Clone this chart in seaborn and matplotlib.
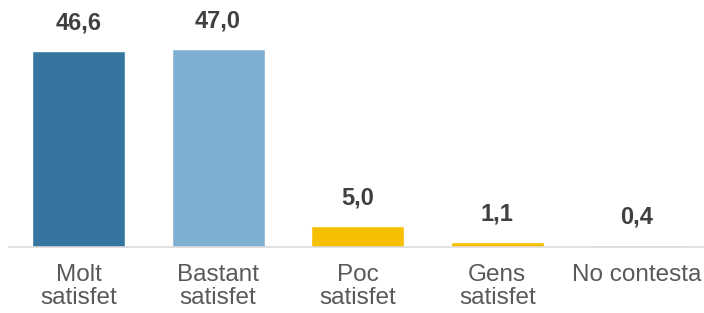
import matplotlib
matplotlib.use("Agg")
import matplotlib.pyplot as plt
import seaborn as sns
import pandas as pd

# Data
categories = ["Molt\nsatisfet", "Bastant\nsatisfet", "Poc\nsatisfet", "Gens\nsatisfet", "No contesta"]
values = [46.6, 47.0, 5.0, 1.1, 0.4]
colors = ["#35759f", "#7eafd3", "#f6bf00", "#f6bf00", "#d9d9d9"]

df = pd.DataFrame({"cat": categories, "val": values})

sns.set_style("white")
plt.rcParams["font.family"] = ["Liberation Sans", "DejaVu Sans"]

fig = plt.figure(figsize=(7.04, 3.13), dpi=100)
ax = fig.add_axes([8.7 / 704, 66.3 / 313, 698 / 704, 246.7 / 313])

sns.barplot(data=df, x="cat", y="val", hue="cat", palette=colors,
            legend=False, width=0.666, saturation=1, ax=ax)

ax.set_xlim(-0.5, 4.5)
ax.set_ylim(0, 58.65)

# value labels with decimal comma
for container in ax.containers:
    ax.bar_label(container, labels=[f"{v:.1f}".replace(".", ",") for v in container.datavalues],
                 padding=12, fontsize=17, fontweight="bold", color="#404040")

for s in ["top", "left", "right"]:
    ax.spines[s].set_visible(False)
ax.spines["bottom"].set_color("#d9d9d9")
ax.spines["bottom"].set_linewidth(1.1)

ax.set_yticks([])
ax.set_xlabel("")
ax.set_ylabel("")
ax.tick_params(axis="x", length=0, pad=12.5, labelsize=17.5, labelcolor="#595959")
for lbl in ax.get_xticklabels():
    lbl.set_linespacing(1.08)

fig.savefig("out.png", dpi=100)
